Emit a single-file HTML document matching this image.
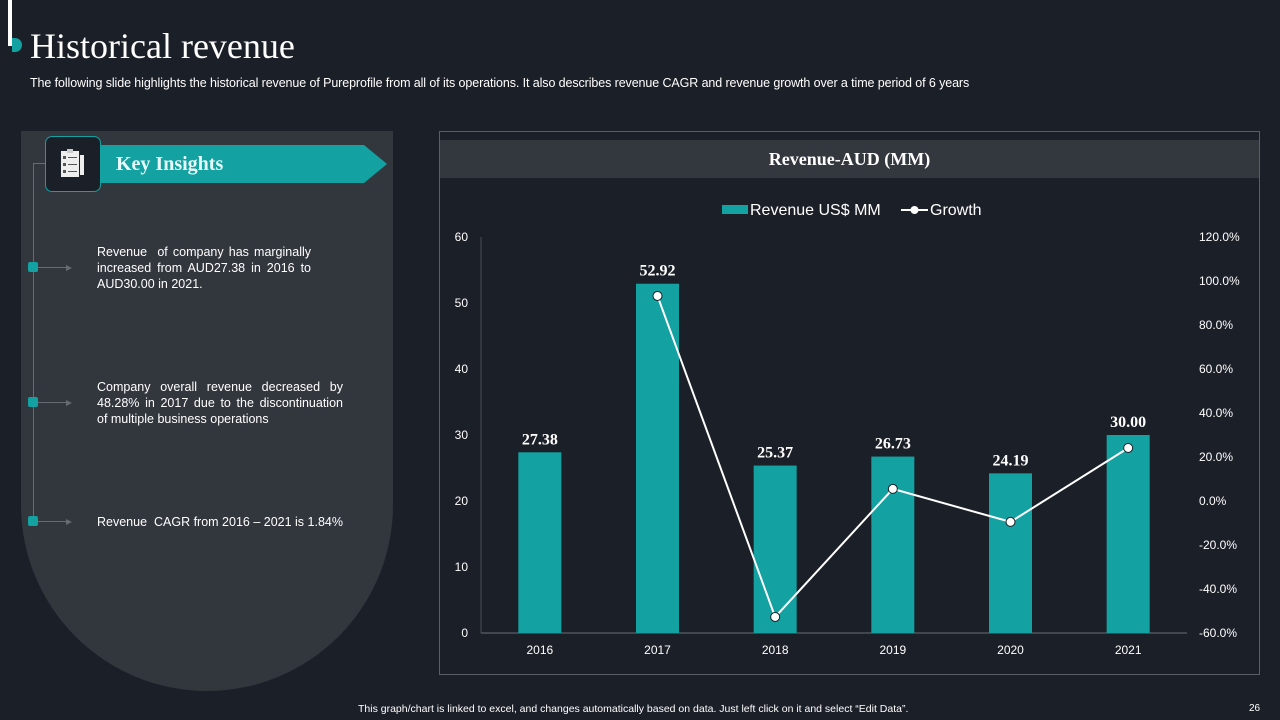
<!DOCTYPE html>
<html><head><meta charset="utf-8"><style>
body{margin:0;width:1280px;height:720px;background:#1b1f27;position:relative;overflow:hidden;font-family:"Liberation Sans",sans-serif;color:#fff}
.abs{position:absolute}
.ins{font-size:12.5px;line-height:16px;text-align:justify;text-align-last:left}
.arr{position:absolute;width:0;height:0;border-top:3px solid transparent;border-bottom:3px solid transparent;border-left:6px solid #666b72}
</style></head><body>
<div class="abs" style="left:8px;top:0;width:4px;height:46px;background:#fff"></div>
<div class="abs" style="left:12px;top:38px;width:10px;height:14px;background:#13a1a1;border-radius:0 8px 8px 0"></div>
<div class="abs" style="left:30px;top:25px;font-family:'Liberation Serif',serif;font-size:36px;color:#fff">Historical revenue</div>
<div class="abs" style="left:30px;top:76px;font-size:12.5px;letter-spacing:-0.1px">The following slide highlights the historical revenue of Pureprofile from all of its operations. It also describes revenue CAGR and revenue growth over a time period of 6 years</div>

<div class="abs" style="left:21px;top:131px;width:372px;height:560px;background:#32363d;border-radius:0 0 186px 186px"></div>
<div class="abs" style="left:33px;top:163px;width:1px;height:360px;background:#666b72"></div>
<div class="abs" style="left:33px;top:163px;width:13px;height:1px;background:#666b72"></div>
<div class="abs" style="left:100px;top:145px;width:287px;height:38px;background:#13a1a1;clip-path:polygon(0 0,92% 0,100% 50%,92% 100%,0 100%)"></div>
<div class="abs" style="left:116px;top:153px;font-family:'Liberation Serif',serif;font-weight:bold;font-size:20px;color:#e8fbfb">Key Insights</div>
<div class="abs" style="left:45px;top:136px;width:54px;height:54px;background:#1b1f27;border:1px solid #13a1a1;border-radius:7px">
<svg width="54" height="54"><rect x="15" y="14" width="18" height="26" fill="#eee"/><rect x="21" y="12" width="6" height="4" fill="#ccc"/><rect x="34" y="18" width="4" height="20" fill="#eee"/><g fill="#555"><rect x="17" y="19" width="3" height="3"/><rect x="17" y="26" width="3" height="3"/><rect x="17" y="33" width="3" height="3"/><rect x="22" y="20" width="9" height="1"/><rect x="22" y="27" width="9" height="1"/><rect x="22" y="34" width="9" height="1"/></g></svg></div>

<div>
<div class="abs" style="left:28px;top:262px;width:10px;height:10px;background:#13a1a1;border-radius:2px"></div>
<div class="abs" style="left:38px;top:267px;width:30px;height:1px;background:#666b72"></div>
<div class="arr" style="left:66px;top:264.5px"></div>
<div class="abs ins" style="left:97px;top:244px;width:214px">Revenue&nbsp; of company has marginally increased from AUD27.38 in 2016 to AUD30.00 in 2021.</div></div>
<div>
<div class="abs" style="left:28px;top:397px;width:10px;height:10px;background:#13a1a1;border-radius:2px"></div>
<div class="abs" style="left:38px;top:402px;width:30px;height:1px;background:#666b72"></div>
<div class="arr" style="left:66px;top:399.5px"></div>
<div class="abs ins" style="left:97px;top:379px;width:246px">Company overall revenue decreased by 48.28% in 2017 due to the discontinuation of multiple business operations</div></div>
<div>
<div class="abs" style="left:28px;top:516px;width:10px;height:10px;background:#13a1a1;border-radius:2px"></div>
<div class="abs" style="left:38px;top:521px;width:30px;height:1px;background:#666b72"></div>
<div class="arr" style="left:66px;top:518.5px"></div>
<div class="abs" style="left:97px;top:514px;width:270px;font-size:12.5px;line-height:16px">Revenue&nbsp; CAGR from 2016 – 2021 is 1.84%</div></div>

<div class="abs" style="left:439px;top:131px;width:819px;height:542px;border:1px solid #5a5e65"></div>
<div class="abs" style="left:440px;top:140px;width:819px;height:38px;background:#33373e"></div>
<div class="abs" style="left:440px;top:149px;width:819px;text-align:center;font-family:'Liberation Serif',serif;font-weight:bold;font-size:18px">Revenue-AUD (MM)</div>

<svg class="abs" style="left:0;top:0" width="1280" height="720" id="chart"></svg>

<div class="abs" style="left:358px;top:703px;font-size:10.5px">This graph/chart is linked to excel, and changes automatically based on data. Just left click on it and select “Edit Data”.</div>
<div class="abs" style="left:1249px;top:703px;font-size:10px">26</div>

<script>
const categories=["2016","2017","2018","2019","2020","2021"];
const revenue=[27.38,52.92,25.37,26.73,24.19,30.00];
const revenueLabels=["27.38","52.92","25.37","26.73","24.19","30.00"];
const growth=[null,93.2,-52.7,5.5,-9.5,24.1];
const leftTicks=[0,10,20,30,40,50,60];
const rightTicks=[-60,-40,-20,0,20,40,60,80,100,120];

const NS="http://www.w3.org/2000/svg";
const svg=document.getElementById("chart");
const x0=481,x1=1187,yTop=237,yBot=633;
const band=(x1-x0)/categories.length;
const xc=i=>x0+band*(i+0.5);
const yL=v=>yBot-(v-0)/(60-0)*(yBot-yTop);
const yR=v=>yBot-(v+60)/(180)*(yBot-yTop);
function mk(tag,attrs,txt){const e=document.createElementNS(NS,tag);for(const k in attrs)e.setAttribute(k,attrs[k]);if(txt!=null)e.textContent=txt;svg.appendChild(e);return e;}

const ax=mk("line",{x1:x0,y1:yBot,x2:x1,y2:yBot,stroke:"#6a6e75","stroke-width":1});


const ay=mk("line",{x1:x0,y1:yTop,x2:x0,y2:yBot,stroke:"#4a4e55","stroke-width":1});



leftTicks.forEach(t=>{const e=mk("text",{x:468,y:yL(t)+4,"text-anchor":"end","font-size":12,fill:"#fff","font-family":"Liberation Sans"},String(t));

});
rightTicks.forEach(t=>{const e=mk("text",{x:1199,y:yR(t)+4,"font-size":12,fill:"#fff","font-family":"Liberation Sans"},t.toFixed(1)+"%");

});

categories.forEach((c,i)=>{
const b=mk("rect",{x:xc(i)-21.5,y:yL(revenue[i]),width:43,height:yBot-yL(revenue[i]),fill:"#13a1a1"});


const l=mk("text",{x:xc(i),y:yL(revenue[i])-8,"text-anchor":"middle","font-size":16,"font-weight":"bold",fill:"#fff","font-family":"Liberation Serif"},revenueLabels[i]);


const t=mk("text",{x:xc(i),y:654,"text-anchor":"middle","font-size":12,fill:"#fff","font-family":"Liberation Sans"},c);


});

let pts=[];growth.forEach((g,i)=>{if(g!=null)pts.push([xc(i),yR(g)]);});
const pl=mk("polyline",{points:pts.map(p=>p.join(",")).join(" "),fill:"none",stroke:"#fff","stroke-width":2});


pts.forEach(p=>{const c=mk("circle",{cx:p[0],cy:p[1],r:4.5,fill:"#fff",stroke:"#1b1f27","stroke-width":1});

});

const lg1=mk("rect",{x:722,y:205,width:26,height:9,fill:"#13a1a1"});


const lt1=mk("text",{x:750,y:215,"font-size":16,fill:"#fff","font-family":"Liberation Sans"},"Revenue US$ MM");


const lg2=mk("line",{x1:901,y1:210,x2:928,y2:210,stroke:"#fff","stroke-width":2});


const lc2=mk("circle",{cx:914.5,cy:210,r:4,fill:"#fff"});


const lt2=mk("text",{x:930,y:215,"font-size":16,fill:"#fff","font-family":"Liberation Sans"},"Growth");


</script>
</body></html>
